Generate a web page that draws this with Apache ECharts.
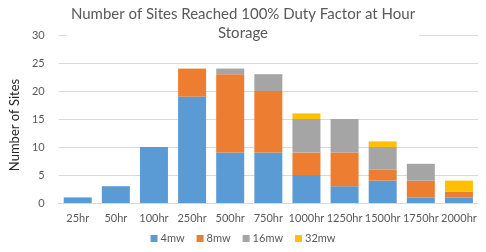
<!DOCTYPE html>
<html><head><meta charset="utf-8">
<script src="https://cdn.jsdelivr.net/npm/echarts@6/dist/echarts.min.js"></script>
<style>html,body{margin:0;padding:0;background:#fff}#c{width:486px;height:252px}</style>
</head><body><div id="c"></div>
<script>
var categories = ['25hr','50hr','100hr','250hr','500hr','750hr','1000hr','1250hr','1500hr','1750hr','2000hr'];
var s4mw  = [1, 3, 10, 19, 9, 9, 5, 3, 4, 1, 1];
var s8mw  = [0, 0, 0, 5, 14, 11, 4, 6, 2, 3, 1];
var s16mw = [0, 0, 0, 0, 1, 3, 6, 6, 4, 3, 0];
var s32mw = [0, 0, 0, 0, 0, 0, 1, 0, 1, 0, 2];
var yTicks = [0, 5, 10, 15, 20, 25, 30];
var seriesNames = ['4mw','8mw','16mw','32mw'];
var colors = ['#5B9BD5','#ED7D31','#A5A5A5','#FFC000'];
var font = 'Lato, "Open Sans", sans-serif';
var chart = echarts.init(document.getElementById('c'));
function ser(name, data, i){
  return {name:name, type:'bar', stack:'a', data:data, barWidth:28,
    itemStyle:{color:colors[i]}, z:2};
}
chart.setOption({
  animation:false,
  title:{text:'Number of Sites Reached 100% Duty Factor at Hour\nStorage', left:'center', top:4,
    textStyle:{fontFamily:font, fontSize:15, fontWeight:'normal', color:'#595959', lineHeight:19},
    backgroundColor:'#fff', padding:[1,4,0,4], z:10},
  legend:{data:seriesNames, bottom:3, left:'center', itemWidth:7, itemHeight:7, itemGap:12,
    icon:'rect', textStyle:{fontFamily:font, fontSize:11, color:'#595959', padding:[0,0,0,-2]}},
  grid:{left:48, right:8, top:35, bottom:49, containLabel:false},
  xAxis:{type:'category', data:categories,
    axisLine:{lineStyle:{color:'#d9d9d9'}}, axisTick:{show:false},
    axisLabel:{fontFamily:font, fontSize:11, color:'#595959', margin:10, interval:0}},
  yAxis:{type:'value', min:yTicks[0], max:yTicks[yTicks.length-1], interval:5,
    name:'Number of Sites', nameLocation:'middle', nameGap:32, nameRotate:90,
    nameTextStyle:{fontFamily:font, fontSize:13, color:'#262626', padding:[0,0,0,-12]},
    axisLine:{show:false}, axisTick:{show:false},
    axisLabel:{fontFamily:font, fontSize:11, color:'#595959', margin:14},
    splitLine:{lineStyle:{color:'#d9d9d9'}}},
  series:[ser('4mw',s4mw,0), ser('8mw',s8mw,1), ser('16mw',s16mw,2), ser('32mw',s32mw,3)]
});
</script></body></html>
